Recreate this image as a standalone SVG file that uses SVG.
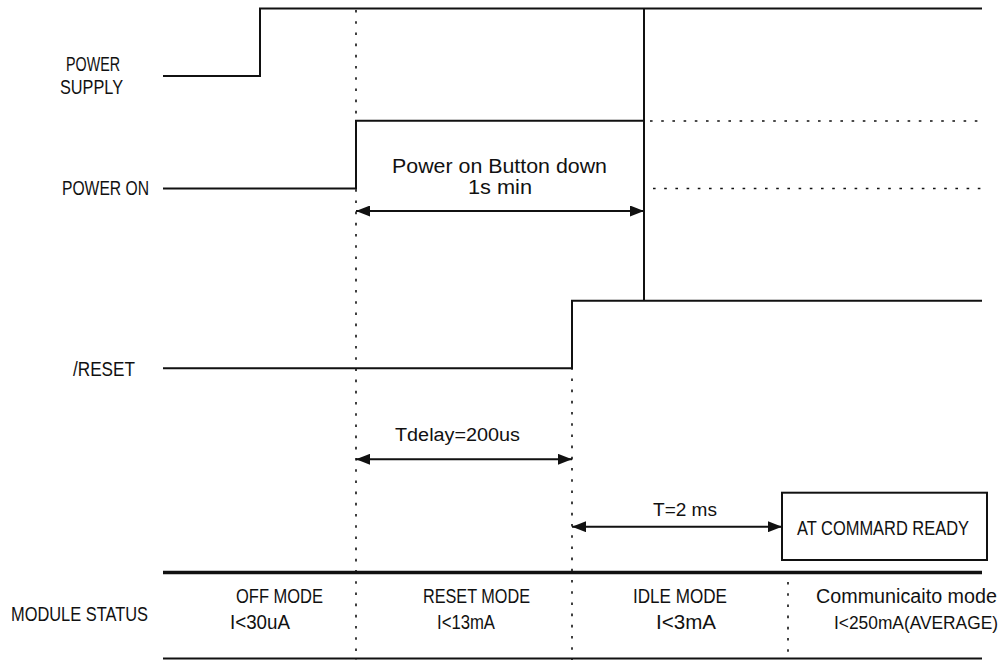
<svg xmlns="http://www.w3.org/2000/svg" width="1006" height="660" viewBox="0 0 1006 660">
<style>
text{font-family:"Liberation Sans",Arial,sans-serif;font-size:20px;fill:#111}
.sm{font-size:18px}
.xs{font-size:17.5px}
.sig{fill:none;stroke:#111;stroke-width:2}
.dot{fill:none;stroke:#111;stroke-width:1.6;stroke-dasharray:2.6 8.6}
.arr{fill:none;stroke:#111;stroke-width:2;marker-start:url(#ah);marker-end:url(#ah)}
.thick{fill:none;stroke:#111;stroke-width:3.4}
.box{fill:#fff;stroke:#111;stroke-width:2}
</style>
<defs>
<marker id="ah" viewBox="0 0 14 11" refX="14" refY="5.5" markerWidth="14" markerHeight="11" markerUnits="userSpaceOnUse" orient="auto-start-reverse">
<path d="M0,0 L14,5.5 L0,11 z" fill="#111"/>
</marker>
</defs>
<rect width="1006" height="660" fill="#fff"/>

<g id="guides">
<line class="dot" x1="356" y1="10" x2="356" y2="660"/>
<line class="dot" x1="572" y1="300" x2="572" y2="660"/>
<line class="dot" x1="788" y1="582" x2="788" y2="660"/>
<line class="dot" x1="650" y1="121" x2="982" y2="121"/>
<line class="dot" x1="653" y1="188.5" x2="982" y2="188.5"/>
</g>

<g id="power-supply">
<text x="66" y="70.5" textLength="54" lengthAdjust="spacingAndGlyphs">POWER</text>
<text x="60" y="94" textLength="63" lengthAdjust="spacingAndGlyphs">SUPPLY</text>
<path class="sig" d="M163,76 H260 V8.5 H982"/>
</g>

<g id="power-on">
<text x="62" y="194.5" textLength="87" lengthAdjust="spacingAndGlyphs">POWER ON</text>
<path class="sig" d="M163,188.5 H356 V120.7 H644"/>
<text x="392" y="173" textLength="215" lengthAdjust="spacingAndGlyphs">Power on Button down</text>
<text x="468" y="194" textLength="64" lengthAdjust="spacingAndGlyphs">1s min</text>
</g>

<g id="reset">
<text x="73" y="375.5" textLength="62" lengthAdjust="spacingAndGlyphs">/RESET</text>
<path class="sig" d="M163,368.3 H572 V300.7 H982"/>
<path class="sig" d="M644,8.5 V300.7"/>
</g>

<g id="tdelay">
<text class="sm" x="395" y="441" textLength="125" lengthAdjust="spacingAndGlyphs">Tdelay=200us</text>
</g>

<g id="t2ms">
<text class="sm" x="653" y="516" textLength="64" lengthAdjust="spacingAndGlyphs">T=2 ms</text>
</g>

<g id="at-ready">
<rect class="box" x="782" y="492.7" width="205" height="67.3"/>
<text x="797" y="535" textLength="172" lengthAdjust="spacingAndGlyphs">AT COMMARD READY</text>
</g>

<g id="connectors">
<line class="arr" x1="356" y1="211" x2="644" y2="211"/>
<line class="arr" x1="356" y1="459.3" x2="572" y2="459.3"/>
<line class="arr" x1="572" y1="526.7" x2="782" y2="526.7"/>
</g>

<g id="module-status">
<line class="thick" x1="163" y1="572.5" x2="982" y2="572.5"/>
<line class="sig" x1="163" y1="658.5" x2="982" y2="658.5"/>
<text x="11" y="621" textLength="137" lengthAdjust="spacingAndGlyphs">MODULE STATUS</text>
</g>

<g id="off-mode">
<text x="236" y="603" textLength="87" lengthAdjust="spacingAndGlyphs">OFF MODE</text>
<text x="230" y="629" textLength="60" lengthAdjust="spacingAndGlyphs">I&lt;30uA</text>
</g>

<g id="reset-mode">
<text x="423" y="603" textLength="107" lengthAdjust="spacingAndGlyphs">RESET MODE</text>
<text x="437" y="629" textLength="58" lengthAdjust="spacingAndGlyphs">I&lt;13mA</text>
</g>

<g id="idle-mode">
<text x="633" y="603" textLength="94" lengthAdjust="spacingAndGlyphs">IDLE MODE</text>
<text x="656" y="629" textLength="60" lengthAdjust="spacingAndGlyphs">I&lt;3mA</text>
</g>

<g id="comm-mode">
<text x="816" y="603" textLength="181" lengthAdjust="spacingAndGlyphs">Communicaito mode</text>
<text class="xs" x="834" y="629" textLength="164" lengthAdjust="spacingAndGlyphs">I&lt;250mA(AVERAGE)</text>
</g>
</svg>
